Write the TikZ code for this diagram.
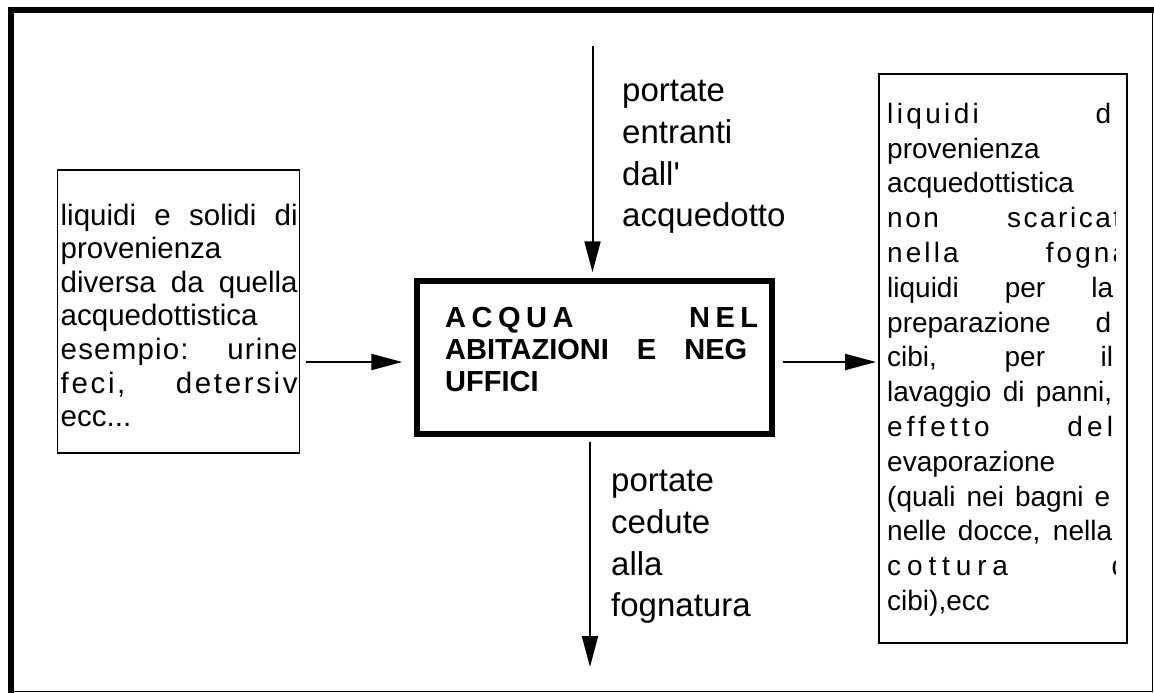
\documentclass[tikz,border=0pt]{standalone}
\usepackage{fontspec}
\setmainfont{Liberation Sans}
\usetikzlibrary{arrows.meta,positioning}

\newcommand{\riga}[2]{\makebox[#1][s]{#2}}
\newcommand{\spaziato}[2]{{\addfontfeatures{LetterSpace=#1}#2}}

\tikzset{
  scatola/.style={draw, line width=1.5pt, inner sep=0pt},
  freccia/.style={line width=2pt, -{Triangle[length=31pt,width=16pt]}},
  testo/.style={anchor=base west, inner sep=0pt, align=left},
}

\begin{document}
\begin{tikzpicture}[x=1pt,y=-1pt]
\useasboundingbox (0,0) rectangle (1154,693);
% cornice
\draw[line width=1.5pt] (11,9.7) rectangle (1152.3,691.7);
\draw[line width=6pt] (11,693) -- (11,9.7) -- (1154,9.7);

% scatole
\node[scatola, minimum width=242pt, minimum height=283pt] (sinistra) at (178.5,311.5) {};
\node[scatola, line width=5.5pt, minimum width=355pt, minimum height=153pt] (acqua) at (594.5,357.5) {};
\node[scatola, line width=2pt, minimum width=248pt, minimum height=569pt] (destra) at (1003,358.5) {};

% testi (ancorati all'ultima riga)
\node[testo, font=\fontsize{29.5}{33.6}\selectfont] (testosin) at (60.5,426.6) {%
\riga{237pt}{liquidi e solidi di}\\
provenienza\\
\riga{237pt}{diversa da quella}\\
acquedottistica\\
\riga{237pt}{\spaziato{4}{esempio: urine}}\\
\riga{237pt}{\spaziato{9}{feci, detersiv}}\\
ecc...};

\node[testo, font=\bfseries\fontsize{29}{32.2}\selectfont] (testoacqua) at (445,391.7) {%
\riga{313pt}{\spaziato{19}{ACQUA NEL}}\\
\riga{302pt}{ABITAZIONI E NEG}\\
UFFICI};

\begin{scope}
\clip (879,74) rectangle (1115,643);
\node[testo, font=\fontsize{28}{34.8}\selectfont] (testodes) at (887,610.5) {%
\riga{224pt}{\spaziato{12}{liquidi} d}\\
provenienza\\
acquedottistica\\
\riga{234pt}{\spaziato{9}{non scaricat}}\\
\riga{241pt}{\spaziato{11}{nella fogna}}\\
\riga{226pt}{liquidi per la}\\
\riga{224pt}{preparazione d}\\
\riga{226pt}{cibi, per il}\\
\riga{225pt}{lavaggio di panni,}\\
\riga{226pt}{\spaziato{15}{effetto del}}\\
evaporazione\\
\riga{223pt}{(quali nei bagni e}\\
\riga{225pt}{nelle docce, nella}\\
\riga{240pt}{\spaziato{21}{cottura d}}\\
cibi),ecc};
\end{scope}

% etichette
\node[testo, font=\fontsize{33}{41.7}\selectfont] (entrata) at (622,226.8) {portate\\entranti\\dall\textquotesingle\\acquedotto};
\node[testo, font=\fontsize{33}{41.7}\selectfont] (uscita) at (611,616.8) {portate\\cedute\\alla\\fognatura};

% frecce
\coordinate (alto) at (592.5,46);
\coordinate (basso) at (590,667);
\coordinate (medio) at (0,362);
\draw[freccia, shorten >=6pt] (alto) -- (alto |- acqua.north);
\draw[freccia, shorten <=5pt] (basso |- acqua.south) -- (basso);
\draw[freccia, shorten <=6pt, shorten >=12pt] (sinistra.east |- medio) -- (acqua.west |- medio);
\draw[freccia, shorten <=8pt, shorten >=2pt] (acqua.east |- medio) -- (destra.west |- medio);
\end{tikzpicture}
\end{document}
